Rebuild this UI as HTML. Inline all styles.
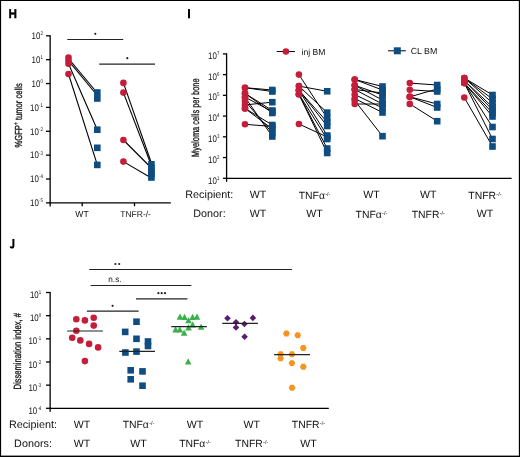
<!DOCTYPE html>
<html><head><meta charset="utf-8"><style>
html,body{margin:0;padding:0;background:#fff;width:520px;height:457px;overflow:hidden}
svg{display:block;font-family:"Liberation Sans", sans-serif;will-change:transform;text-rendering:geometricPrecision}
</style></head><body>
<svg width="520" height="457" viewBox="0 0 520 457">
<rect width="520" height="457" fill="#fff"/>
<text transform="translate(8.40,17.80) scale(0.92,1)" font-size="12.7" text-anchor="start" font-weight="bold" fill="#000" stroke="#000" stroke-width="0.35">H</text>
<line x1="50.15" y1="35.20" x2="50.15" y2="206.60" stroke="#000" stroke-width="1.3"/>
<line x1="46.00" y1="35.80" x2="50.15" y2="35.80" stroke="#000" stroke-width="1.3"/>
<text transform="translate(42.90,39.12) scale(0.83,1)" font-size="9.5" text-anchor="end" fill="#111">10<tspan font-size="5.3" dx="0.2" dy="-3.92">2</tspan></text>
<line x1="46.00" y1="59.67" x2="50.15" y2="59.67" stroke="#000" stroke-width="1.3"/>
<text transform="translate(42.90,63.00) scale(0.83,1)" font-size="9.5" text-anchor="end" fill="#111">10<tspan font-size="5.3" dx="0.2" dy="-3.92">1</tspan></text>
<line x1="46.00" y1="83.54" x2="50.15" y2="83.54" stroke="#000" stroke-width="1.3"/>
<text transform="translate(42.90,86.86) scale(0.83,1)" font-size="9.5" text-anchor="end" fill="#111">10<tspan font-size="5.3" dx="0.2" dy="-3.92">0</tspan></text>
<line x1="46.00" y1="107.41" x2="50.15" y2="107.41" stroke="#000" stroke-width="1.3"/>
<text transform="translate(42.90,110.73) scale(0.83,1)" font-size="9.5" text-anchor="end" fill="#111">10<tspan font-size="5.3" dx="0.2" dy="-3.92">-1</tspan></text>
<line x1="46.00" y1="131.28" x2="50.15" y2="131.28" stroke="#000" stroke-width="1.3"/>
<text transform="translate(42.90,134.60) scale(0.83,1)" font-size="9.5" text-anchor="end" fill="#111">10<tspan font-size="5.3" dx="0.2" dy="-3.92">-2</tspan></text>
<line x1="46.00" y1="155.15" x2="50.15" y2="155.15" stroke="#000" stroke-width="1.3"/>
<text transform="translate(42.90,158.47) scale(0.83,1)" font-size="9.5" text-anchor="end" fill="#111">10<tspan font-size="5.3" dx="0.2" dy="-3.92">-3</tspan></text>
<line x1="46.00" y1="179.02" x2="50.15" y2="179.02" stroke="#000" stroke-width="1.3"/>
<text transform="translate(42.90,182.34) scale(0.83,1)" font-size="9.5" text-anchor="end" fill="#111">10<tspan font-size="5.3" dx="0.2" dy="-3.92">-4</tspan></text>
<line x1="46.00" y1="202.89" x2="50.15" y2="202.89" stroke="#000" stroke-width="1.3"/>
<text transform="translate(42.90,206.21) scale(0.83,1)" font-size="9.5" text-anchor="end" fill="#111">10<tspan font-size="5.3" dx="0.2" dy="-3.92">-5</tspan></text>
<line x1="49.50" y1="202.80" x2="170.80" y2="202.80" stroke="#000" stroke-width="1.3"/>
<line x1="82.20" y1="202.80" x2="82.20" y2="206.20" stroke="#000" stroke-width="1.3"/>
<line x1="134.50" y1="202.80" x2="134.50" y2="206.20" stroke="#000" stroke-width="1.3"/>
<text x="82.00" y="217.30" font-size="8.6" text-anchor="middle" font-weight="normal" fill="#111">WT</text>
<text x="135.60" y="217.30" font-size="8.5" text-anchor="middle" font-weight="normal" fill="#111">TNFR-/-</text>
<text x="0" y="0" font-size="10.2" text-anchor="middle" fill="#111" stroke="#111" stroke-width="0.3" textLength="64.3" lengthAdjust="spacingAndGlyphs" transform="translate(21.90,115.40) rotate(-90)">%GFP<tspan font-size="6.5" dy="-3.5">+</tspan><tspan dy="3.5"> tumor cells</tspan></text>
<line x1="67.30" y1="39.50" x2="123.20" y2="39.50" stroke="#222" stroke-width="1.2"/>
<circle cx="95.30" cy="33.80" r="1.1" fill="#222"/>
<line x1="99.20" y1="64.20" x2="155.00" y2="64.20" stroke="#222" stroke-width="1.2"/>
<circle cx="127.30" cy="58.20" r="1.1" fill="#222"/>
<line x1="68.50" y1="58.50" x2="97.30" y2="93.00" stroke="#000" stroke-width="1.1"/>
<line x1="68.50" y1="60.60" x2="97.30" y2="95.50" stroke="#000" stroke-width="1.1"/>
<line x1="68.50" y1="63.70" x2="97.30" y2="129.70" stroke="#000" stroke-width="1.1"/>
<line x1="68.50" y1="74.00" x2="97.30" y2="164.90" stroke="#000" stroke-width="1.1"/>
<line x1="123.40" y1="82.90" x2="151.40" y2="163.00" stroke="#000" stroke-width="1.1"/>
<line x1="123.40" y1="92.60" x2="151.40" y2="165.50" stroke="#000" stroke-width="1.1"/>
<line x1="123.40" y1="140.00" x2="151.40" y2="168.00" stroke="#000" stroke-width="1.1"/>
<line x1="123.40" y1="161.60" x2="151.40" y2="178.00" stroke="#000" stroke-width="1.1"/>
<circle cx="68.50" cy="57.60" r="3.3" fill="#c41e3a"/>
<circle cx="68.50" cy="60.60" r="3.3" fill="#c41e3a"/>
<circle cx="68.50" cy="63.70" r="3.3" fill="#c41e3a"/>
<circle cx="68.50" cy="74.00" r="3.3" fill="#c41e3a"/>
<rect x="94.00" y="89.20" width="6.6" height="6.6" fill="#0f4c81"/>
<rect x="94.00" y="95.20" width="6.6" height="6.6" fill="#0f4c81"/>
<rect x="94.00" y="126.40" width="6.6" height="6.6" fill="#0f4c81"/>
<rect x="94.00" y="144.50" width="6.6" height="6.6" fill="#0f4c81"/>
<rect x="94.00" y="161.60" width="6.6" height="6.6" fill="#0f4c81"/>
<circle cx="123.40" cy="82.90" r="3.3" fill="#c41e3a"/>
<circle cx="123.40" cy="92.60" r="3.3" fill="#c41e3a"/>
<circle cx="123.40" cy="140.00" r="3.3" fill="#c41e3a"/>
<circle cx="123.40" cy="161.60" r="3.3" fill="#c41e3a"/>
<rect x="148.10" y="161.00" width="6.6" height="6.6" fill="#0f4c81"/>
<rect x="148.10" y="164.70" width="6.6" height="6.6" fill="#0f4c81"/>
<rect x="148.10" y="167.70" width="6.6" height="6.6" fill="#0f4c81"/>
<rect x="148.10" y="170.70" width="6.6" height="6.6" fill="#0f4c81"/>
<rect x="148.10" y="174.20" width="6.6" height="6.6" fill="#0f4c81"/>
<rect x="188.0" y="9.1" width="2.0" height="9.2" fill="#000"/>
<line x1="226.60" y1="53.30" x2="226.60" y2="181.80" stroke="#000" stroke-width="1.3"/>
<line x1="222.90" y1="53.90" x2="226.60" y2="53.90" stroke="#000" stroke-width="1.3"/>
<text transform="translate(219.40,58.62) scale(0.83,1)" font-size="9.5" text-anchor="end" fill="#111">10<tspan font-size="5.3" dx="0.2" dy="-3.92">7</tspan></text>
<line x1="222.90" y1="74.63" x2="226.60" y2="74.63" stroke="#000" stroke-width="1.3"/>
<text transform="translate(219.40,79.50) scale(0.83,1)" font-size="9.5" text-anchor="end" fill="#111">10<tspan font-size="5.3" dx="0.2" dy="-3.92">6</tspan></text>
<line x1="222.90" y1="95.36" x2="226.60" y2="95.36" stroke="#000" stroke-width="1.3"/>
<text transform="translate(219.40,100.36) scale(0.83,1)" font-size="9.5" text-anchor="end" fill="#111">10<tspan font-size="5.3" dx="0.2" dy="-3.92">5</tspan></text>
<line x1="222.90" y1="116.09" x2="226.60" y2="116.09" stroke="#000" stroke-width="1.3"/>
<text transform="translate(219.40,121.23) scale(0.83,1)" font-size="9.5" text-anchor="end" fill="#111">10<tspan font-size="5.3" dx="0.2" dy="-3.92">4</tspan></text>
<line x1="222.90" y1="136.82" x2="226.60" y2="136.82" stroke="#000" stroke-width="1.3"/>
<text transform="translate(219.40,142.10) scale(0.83,1)" font-size="9.5" text-anchor="end" fill="#111">10<tspan font-size="5.3" dx="0.2" dy="-3.92">3</tspan></text>
<line x1="222.90" y1="157.55" x2="226.60" y2="157.55" stroke="#000" stroke-width="1.3"/>
<text transform="translate(219.40,162.97) scale(0.83,1)" font-size="9.5" text-anchor="end" fill="#111">10<tspan font-size="5.3" dx="0.2" dy="-3.92">2</tspan></text>
<line x1="222.90" y1="178.28" x2="226.60" y2="178.28" stroke="#000" stroke-width="1.3"/>
<text transform="translate(219.40,183.84) scale(0.83,1)" font-size="9.5" text-anchor="end" fill="#111">10<tspan font-size="5.3" dx="0.2" dy="-3.92">1</tspan></text>
<line x1="226.00" y1="178.30" x2="511.60" y2="178.30" stroke="#000" stroke-width="1.3"/>
<text x="0" y="0" font-size="10.6" text-anchor="middle" fill="#111" stroke="#111" stroke-width="0.3" textLength="78.5" lengthAdjust="spacingAndGlyphs" transform="translate(198.70,117.70) rotate(-90)">Myeloma cells per bone</text>
<line x1="276.70" y1="51.50" x2="294.90" y2="51.50" stroke="#000" stroke-width="1.0"/>
<circle cx="285.90" cy="51.50" r="3.3" fill="#c41e3a"/>
<text x="301.50" y="54.60" font-size="8.6" text-anchor="start" font-weight="normal" fill="#111">inj BM</text>
<line x1="388.10" y1="50.80" x2="405.80" y2="50.80" stroke="#000" stroke-width="1.0"/>
<rect x="393.80" y="47.30" width="7.0" height="7.0" fill="#0f4c81"/>
<text x="410.70" y="54.00" font-size="8.8" text-anchor="start" font-weight="normal" fill="#111">CL BM</text>
<line x1="245.00" y1="87.70" x2="272.30" y2="90.00" stroke="#000" stroke-width="1.0"/>
<line x1="245.00" y1="87.70" x2="272.30" y2="91.50" stroke="#000" stroke-width="1.0"/>
<line x1="245.00" y1="93.40" x2="272.30" y2="110.50" stroke="#000" stroke-width="1.0"/>
<line x1="245.00" y1="93.40" x2="272.30" y2="113.00" stroke="#000" stroke-width="1.0"/>
<line x1="245.00" y1="97.20" x2="272.30" y2="111.50" stroke="#000" stroke-width="1.0"/>
<line x1="245.00" y1="104.90" x2="272.30" y2="102.20" stroke="#000" stroke-width="1.0"/>
<line x1="245.00" y1="101.00" x2="272.30" y2="133.00" stroke="#000" stroke-width="1.0"/>
<line x1="245.00" y1="108.40" x2="272.30" y2="125.00" stroke="#000" stroke-width="1.0"/>
<line x1="245.00" y1="108.40" x2="272.30" y2="129.00" stroke="#000" stroke-width="1.0"/>
<line x1="245.00" y1="124.30" x2="272.30" y2="126.50" stroke="#000" stroke-width="1.0"/>
<line x1="245.00" y1="97.20" x2="272.30" y2="136.50" stroke="#000" stroke-width="1.0"/>
<line x1="298.90" y1="74.60" x2="327.20" y2="118.00" stroke="#000" stroke-width="1.0"/>
<line x1="298.90" y1="86.10" x2="327.20" y2="91.30" stroke="#000" stroke-width="1.0"/>
<line x1="298.90" y1="86.10" x2="327.20" y2="112.60" stroke="#000" stroke-width="1.0"/>
<line x1="298.90" y1="90.20" x2="327.20" y2="122.00" stroke="#000" stroke-width="1.0"/>
<line x1="298.90" y1="90.20" x2="327.20" y2="135.50" stroke="#000" stroke-width="1.0"/>
<line x1="298.90" y1="94.30" x2="327.20" y2="139.00" stroke="#000" stroke-width="1.0"/>
<line x1="298.90" y1="94.30" x2="327.20" y2="148.50" stroke="#000" stroke-width="1.0"/>
<line x1="298.90" y1="94.30" x2="327.20" y2="153.00" stroke="#000" stroke-width="1.0"/>
<line x1="298.90" y1="90.20" x2="327.20" y2="126.00" stroke="#000" stroke-width="1.0"/>
<line x1="298.90" y1="124.00" x2="327.20" y2="137.00" stroke="#000" stroke-width="1.0"/>
<line x1="354.70" y1="79.50" x2="382.50" y2="86.50" stroke="#000" stroke-width="1.0"/>
<line x1="354.70" y1="79.50" x2="382.50" y2="90.00" stroke="#000" stroke-width="1.0"/>
<line x1="354.70" y1="85.30" x2="382.50" y2="95.00" stroke="#000" stroke-width="1.0"/>
<line x1="354.70" y1="85.30" x2="382.50" y2="100.00" stroke="#000" stroke-width="1.0"/>
<line x1="354.70" y1="89.50" x2="382.50" y2="93.00" stroke="#000" stroke-width="1.0"/>
<line x1="354.70" y1="89.50" x2="382.50" y2="104.00" stroke="#000" stroke-width="1.0"/>
<line x1="354.70" y1="94.50" x2="382.50" y2="108.00" stroke="#000" stroke-width="1.0"/>
<line x1="354.70" y1="98.50" x2="382.50" y2="112.50" stroke="#000" stroke-width="1.0"/>
<line x1="354.70" y1="104.00" x2="382.50" y2="104.00" stroke="#000" stroke-width="1.0"/>
<line x1="354.70" y1="100.50" x2="382.50" y2="136.20" stroke="#000" stroke-width="1.0"/>
<line x1="409.80" y1="83.10" x2="437.20" y2="85.00" stroke="#000" stroke-width="1.0"/>
<line x1="409.80" y1="89.80" x2="437.20" y2="91.50" stroke="#000" stroke-width="1.0"/>
<line x1="409.80" y1="96.80" x2="437.20" y2="89.00" stroke="#000" stroke-width="1.0"/>
<line x1="409.80" y1="96.80" x2="437.20" y2="104.00" stroke="#000" stroke-width="1.0"/>
<line x1="409.80" y1="96.80" x2="437.20" y2="107.50" stroke="#000" stroke-width="1.0"/>
<line x1="409.80" y1="103.90" x2="437.20" y2="121.20" stroke="#000" stroke-width="1.0"/>
<line x1="464.30" y1="78.00" x2="492.50" y2="95.00" stroke="#000" stroke-width="1.0"/>
<line x1="464.30" y1="78.00" x2="492.50" y2="99.00" stroke="#000" stroke-width="1.0"/>
<line x1="464.30" y1="78.00" x2="492.50" y2="103.00" stroke="#000" stroke-width="1.0"/>
<line x1="464.30" y1="80.50" x2="492.50" y2="107.00" stroke="#000" stroke-width="1.0"/>
<line x1="464.30" y1="80.50" x2="492.50" y2="110.00" stroke="#000" stroke-width="1.0"/>
<line x1="464.30" y1="83.00" x2="492.50" y2="113.00" stroke="#000" stroke-width="1.0"/>
<line x1="464.30" y1="83.00" x2="492.50" y2="116.50" stroke="#000" stroke-width="1.0"/>
<line x1="464.30" y1="83.00" x2="492.50" y2="127.00" stroke="#000" stroke-width="1.0"/>
<line x1="464.30" y1="83.00" x2="492.50" y2="139.00" stroke="#000" stroke-width="1.0"/>
<line x1="464.30" y1="97.50" x2="492.50" y2="146.50" stroke="#000" stroke-width="1.0"/>
<circle cx="245.00" cy="87.70" r="3.3" fill="#c41e3a"/>
<rect x="269.00" y="86.70" width="6.6" height="6.6" fill="#0f4c81"/>
<circle cx="245.00" cy="87.70" r="3.3" fill="#c41e3a"/>
<rect x="269.00" y="88.20" width="6.6" height="6.6" fill="#0f4c81"/>
<circle cx="245.00" cy="93.40" r="3.3" fill="#c41e3a"/>
<rect x="269.00" y="107.20" width="6.6" height="6.6" fill="#0f4c81"/>
<circle cx="245.00" cy="93.40" r="3.3" fill="#c41e3a"/>
<rect x="269.00" y="109.70" width="6.6" height="6.6" fill="#0f4c81"/>
<circle cx="245.00" cy="97.20" r="3.3" fill="#c41e3a"/>
<rect x="269.00" y="108.20" width="6.6" height="6.6" fill="#0f4c81"/>
<circle cx="245.00" cy="104.90" r="3.3" fill="#c41e3a"/>
<rect x="269.00" y="98.90" width="6.6" height="6.6" fill="#0f4c81"/>
<circle cx="245.00" cy="101.00" r="3.3" fill="#c41e3a"/>
<rect x="269.00" y="129.70" width="6.6" height="6.6" fill="#0f4c81"/>
<circle cx="245.00" cy="108.40" r="3.3" fill="#c41e3a"/>
<rect x="269.00" y="121.70" width="6.6" height="6.6" fill="#0f4c81"/>
<circle cx="245.00" cy="108.40" r="3.3" fill="#c41e3a"/>
<rect x="269.00" y="125.70" width="6.6" height="6.6" fill="#0f4c81"/>
<circle cx="245.00" cy="124.30" r="3.3" fill="#c41e3a"/>
<rect x="269.00" y="123.20" width="6.6" height="6.6" fill="#0f4c81"/>
<circle cx="245.00" cy="97.20" r="3.3" fill="#c41e3a"/>
<rect x="269.00" y="133.20" width="6.6" height="6.6" fill="#0f4c81"/>
<circle cx="298.90" cy="74.60" r="3.3" fill="#c41e3a"/>
<rect x="323.90" y="114.70" width="6.6" height="6.6" fill="#0f4c81"/>
<circle cx="298.90" cy="86.10" r="3.3" fill="#c41e3a"/>
<rect x="323.90" y="88.00" width="6.6" height="6.6" fill="#0f4c81"/>
<circle cx="298.90" cy="86.10" r="3.3" fill="#c41e3a"/>
<rect x="323.90" y="109.30" width="6.6" height="6.6" fill="#0f4c81"/>
<circle cx="298.90" cy="90.20" r="3.3" fill="#c41e3a"/>
<rect x="323.90" y="118.70" width="6.6" height="6.6" fill="#0f4c81"/>
<circle cx="298.90" cy="90.20" r="3.3" fill="#c41e3a"/>
<rect x="323.90" y="132.20" width="6.6" height="6.6" fill="#0f4c81"/>
<circle cx="298.90" cy="94.30" r="3.3" fill="#c41e3a"/>
<rect x="323.90" y="135.70" width="6.6" height="6.6" fill="#0f4c81"/>
<circle cx="298.90" cy="94.30" r="3.3" fill="#c41e3a"/>
<rect x="323.90" y="145.20" width="6.6" height="6.6" fill="#0f4c81"/>
<circle cx="298.90" cy="94.30" r="3.3" fill="#c41e3a"/>
<rect x="323.90" y="149.70" width="6.6" height="6.6" fill="#0f4c81"/>
<circle cx="298.90" cy="90.20" r="3.3" fill="#c41e3a"/>
<rect x="323.90" y="122.70" width="6.6" height="6.6" fill="#0f4c81"/>
<circle cx="298.90" cy="124.00" r="3.3" fill="#c41e3a"/>
<rect x="323.90" y="133.70" width="6.6" height="6.6" fill="#0f4c81"/>
<circle cx="354.70" cy="79.50" r="3.3" fill="#c41e3a"/>
<rect x="379.20" y="83.20" width="6.6" height="6.6" fill="#0f4c81"/>
<circle cx="354.70" cy="79.50" r="3.3" fill="#c41e3a"/>
<rect x="379.20" y="86.70" width="6.6" height="6.6" fill="#0f4c81"/>
<circle cx="354.70" cy="85.30" r="3.3" fill="#c41e3a"/>
<rect x="379.20" y="91.70" width="6.6" height="6.6" fill="#0f4c81"/>
<circle cx="354.70" cy="85.30" r="3.3" fill="#c41e3a"/>
<rect x="379.20" y="96.70" width="6.6" height="6.6" fill="#0f4c81"/>
<circle cx="354.70" cy="89.50" r="3.3" fill="#c41e3a"/>
<rect x="379.20" y="89.70" width="6.6" height="6.6" fill="#0f4c81"/>
<circle cx="354.70" cy="89.50" r="3.3" fill="#c41e3a"/>
<rect x="379.20" y="100.70" width="6.6" height="6.6" fill="#0f4c81"/>
<circle cx="354.70" cy="94.50" r="3.3" fill="#c41e3a"/>
<rect x="379.20" y="104.70" width="6.6" height="6.6" fill="#0f4c81"/>
<circle cx="354.70" cy="98.50" r="3.3" fill="#c41e3a"/>
<rect x="379.20" y="109.20" width="6.6" height="6.6" fill="#0f4c81"/>
<circle cx="354.70" cy="104.00" r="3.3" fill="#c41e3a"/>
<rect x="379.20" y="100.70" width="6.6" height="6.6" fill="#0f4c81"/>
<circle cx="354.70" cy="100.50" r="3.3" fill="#c41e3a"/>
<rect x="379.20" y="132.90" width="6.6" height="6.6" fill="#0f4c81"/>
<circle cx="409.80" cy="83.10" r="3.3" fill="#c41e3a"/>
<rect x="433.90" y="81.70" width="6.6" height="6.6" fill="#0f4c81"/>
<circle cx="409.80" cy="89.80" r="3.3" fill="#c41e3a"/>
<rect x="433.90" y="88.20" width="6.6" height="6.6" fill="#0f4c81"/>
<circle cx="409.80" cy="96.80" r="3.3" fill="#c41e3a"/>
<rect x="433.90" y="85.70" width="6.6" height="6.6" fill="#0f4c81"/>
<circle cx="409.80" cy="96.80" r="3.3" fill="#c41e3a"/>
<rect x="433.90" y="100.70" width="6.6" height="6.6" fill="#0f4c81"/>
<circle cx="409.80" cy="96.80" r="3.3" fill="#c41e3a"/>
<rect x="433.90" y="104.20" width="6.6" height="6.6" fill="#0f4c81"/>
<circle cx="409.80" cy="103.90" r="3.3" fill="#c41e3a"/>
<rect x="433.90" y="117.90" width="6.6" height="6.6" fill="#0f4c81"/>
<circle cx="464.30" cy="78.00" r="3.3" fill="#c41e3a"/>
<rect x="489.20" y="91.70" width="6.6" height="6.6" fill="#0f4c81"/>
<circle cx="464.30" cy="78.00" r="3.3" fill="#c41e3a"/>
<rect x="489.20" y="95.70" width="6.6" height="6.6" fill="#0f4c81"/>
<circle cx="464.30" cy="78.00" r="3.3" fill="#c41e3a"/>
<rect x="489.20" y="99.70" width="6.6" height="6.6" fill="#0f4c81"/>
<circle cx="464.30" cy="80.50" r="3.3" fill="#c41e3a"/>
<rect x="489.20" y="103.70" width="6.6" height="6.6" fill="#0f4c81"/>
<circle cx="464.30" cy="80.50" r="3.3" fill="#c41e3a"/>
<rect x="489.20" y="106.70" width="6.6" height="6.6" fill="#0f4c81"/>
<circle cx="464.30" cy="83.00" r="3.3" fill="#c41e3a"/>
<rect x="489.20" y="109.70" width="6.6" height="6.6" fill="#0f4c81"/>
<circle cx="464.30" cy="83.00" r="3.3" fill="#c41e3a"/>
<rect x="489.20" y="113.20" width="6.6" height="6.6" fill="#0f4c81"/>
<circle cx="464.30" cy="83.00" r="3.3" fill="#c41e3a"/>
<rect x="489.20" y="123.70" width="6.6" height="6.6" fill="#0f4c81"/>
<circle cx="464.30" cy="83.00" r="3.3" fill="#c41e3a"/>
<rect x="489.20" y="135.70" width="6.6" height="6.6" fill="#0f4c81"/>
<circle cx="464.30" cy="97.50" r="3.3" fill="#c41e3a"/>
<rect x="489.20" y="143.20" width="6.6" height="6.6" fill="#0f4c81"/>
<text x="209.30" y="197.70" font-size="10.8" text-anchor="middle" font-weight="normal" fill="#111">Recipient:</text>
<text x="209.50" y="216.90" font-size="10.8" text-anchor="middle" font-weight="normal" fill="#111">Donor:</text>
<text x="258.00" y="197.60" font-size="10.6" text-anchor="middle" fill="#111">WT</text>
<text x="258.00" y="216.90" font-size="10.6" text-anchor="middle" fill="#111">WT</text>
<text x="314.60" y="198.80" font-size="10.4" text-anchor="middle" fill="#111">TNFα<tspan font-size="5.5" dx="0.3" dy="-3.0">-/-</tspan></text>
<text x="314.60" y="216.90" font-size="10.6" text-anchor="middle" fill="#111">WT</text>
<text x="371.40" y="197.60" font-size="10.6" text-anchor="middle" fill="#111">WT</text>
<text x="371.40" y="218.10" font-size="10.4" text-anchor="middle" fill="#111">TNFα<tspan font-size="5.5" dx="0.3" dy="-3.0">-/-</tspan></text>
<text x="428.30" y="197.60" font-size="10.6" text-anchor="middle" fill="#111">WT</text>
<text x="428.30" y="218.10" font-size="10.4" text-anchor="middle" fill="#111">TNFR<tspan font-size="5.5" dx="0.3" dy="-3.0">-/-</tspan></text>
<text x="484.90" y="198.80" font-size="10.4" text-anchor="middle" fill="#111">TNFR<tspan font-size="5.5" dx="0.3" dy="-3.0">-/-</tspan></text>
<text x="484.90" y="216.90" font-size="10.6" text-anchor="middle" fill="#111">WT</text>
<path d="M13.4,239.1 L13.4,245.4 Q13.4,247.6 11.7,247.6 Q10.7,247.6 10.5,246.4" fill="none" stroke="#000" stroke-width="2.0"/>
<line x1="50.15" y1="291.90" x2="50.15" y2="411.80" stroke="#000" stroke-width="1.3"/>
<line x1="46.00" y1="292.50" x2="50.15" y2="292.50" stroke="#000" stroke-width="1.3"/>
<text transform="translate(41.30,298.02) scale(0.83,1)" font-size="9.5" text-anchor="end" fill="#111">10<tspan font-size="5.3" dx="0.2" dy="-3.92">1</tspan></text>
<line x1="46.00" y1="315.66" x2="50.15" y2="315.66" stroke="#000" stroke-width="1.3"/>
<text transform="translate(41.30,321.19) scale(0.83,1)" font-size="9.5" text-anchor="end" fill="#111">10<tspan font-size="5.3" dx="0.2" dy="-3.92">0</tspan></text>
<line x1="46.00" y1="338.82" x2="50.15" y2="338.82" stroke="#000" stroke-width="1.3"/>
<text transform="translate(41.30,344.34) scale(0.83,1)" font-size="9.5" text-anchor="end" fill="#111">10<tspan font-size="5.3" dx="0.2" dy="-3.92">-1</tspan></text>
<line x1="46.00" y1="361.98" x2="50.15" y2="361.98" stroke="#000" stroke-width="1.3"/>
<text transform="translate(41.30,367.50) scale(0.83,1)" font-size="9.5" text-anchor="end" fill="#111">10<tspan font-size="5.3" dx="0.2" dy="-3.92">-2</tspan></text>
<line x1="46.00" y1="385.14" x2="50.15" y2="385.14" stroke="#000" stroke-width="1.3"/>
<text transform="translate(41.30,390.66) scale(0.83,1)" font-size="9.5" text-anchor="end" fill="#111">10<tspan font-size="5.3" dx="0.2" dy="-3.92">-3</tspan></text>
<line x1="46.00" y1="408.30" x2="50.15" y2="408.30" stroke="#000" stroke-width="1.3"/>
<text transform="translate(41.30,413.82) scale(0.83,1)" font-size="9.5" text-anchor="end" fill="#111">10<tspan font-size="5.3" dx="0.2" dy="-3.92">-4</tspan></text>
<line x1="49.50" y1="408.30" x2="328.80" y2="408.30" stroke="#000" stroke-width="1.3"/>
<text x="0" y="0" font-size="10.5" text-anchor="middle" fill="#111" stroke="#111" stroke-width="0.3" textLength="76.6" lengthAdjust="spacingAndGlyphs" transform="translate(20.60,351.30) rotate(-90)">Dissemination index, #</text>
<line x1="89.30" y1="269.50" x2="291.90" y2="269.50" stroke="#222" stroke-width="1.2"/>
<circle cx="115.40" cy="264.00" r="1.1" fill="#222"/>
<circle cx="119.20" cy="264.00" r="1.1" fill="#222"/>
<line x1="90.60" y1="285.50" x2="191.40" y2="285.50" stroke="#222" stroke-width="1.2"/>
<text x="114.90" y="281.60" font-size="8.2" text-anchor="middle" font-weight="normal" fill="#111">n.s.</text>
<line x1="136.00" y1="298.90" x2="187.40" y2="298.90" stroke="#222" stroke-width="1.2"/>
<circle cx="158.40" cy="293.20" r="1.1" fill="#222"/>
<circle cx="161.70" cy="293.20" r="1.1" fill="#222"/>
<circle cx="165.00" cy="293.20" r="1.1" fill="#222"/>
<line x1="86.90" y1="311.20" x2="138.60" y2="311.20" stroke="#222" stroke-width="1.2"/>
<circle cx="112.60" cy="305.80" r="1.1" fill="#222"/>
<circle cx="76.30" cy="319.20" r="3.3" fill="#c41e3a"/>
<circle cx="84.90" cy="320.40" r="3.3" fill="#c41e3a"/>
<circle cx="93.70" cy="317.70" r="3.3" fill="#c41e3a"/>
<circle cx="93.70" cy="325.60" r="3.3" fill="#c41e3a"/>
<circle cx="76.30" cy="330.70" r="3.3" fill="#c41e3a"/>
<circle cx="72.20" cy="337.80" r="3.3" fill="#c41e3a"/>
<circle cx="80.30" cy="340.40" r="3.3" fill="#c41e3a"/>
<circle cx="89.10" cy="343.90" r="3.3" fill="#c41e3a"/>
<circle cx="98.10" cy="347.40" r="3.3" fill="#c41e3a"/>
<circle cx="84.90" cy="361.10" r="3.3" fill="#c41e3a"/>
<line x1="67.20" y1="331.00" x2="102.90" y2="331.00" stroke="#222" stroke-width="1.1"/>
<rect x="133.20" y="318.40" width="6.6" height="6.6" fill="#0f4c81"/>
<rect x="121.90" y="328.60" width="6.6" height="6.6" fill="#0f4c81"/>
<rect x="133.20" y="335.50" width="6.6" height="6.6" fill="#0f4c81"/>
<rect x="144.70" y="338.20" width="6.6" height="6.6" fill="#0f4c81"/>
<rect x="144.70" y="342.70" width="6.6" height="6.6" fill="#0f4c81"/>
<rect x="122.10" y="349.20" width="6.6" height="6.6" fill="#0f4c81"/>
<rect x="133.20" y="348.30" width="6.6" height="6.6" fill="#0f4c81"/>
<rect x="127.40" y="367.00" width="6.6" height="6.6" fill="#0f4c81"/>
<rect x="139.20" y="368.10" width="6.6" height="6.6" fill="#0f4c81"/>
<rect x="127.40" y="376.00" width="6.6" height="6.6" fill="#0f4c81"/>
<rect x="139.20" y="382.40" width="6.6" height="6.6" fill="#0f4c81"/>
<line x1="119.30" y1="351.40" x2="155.00" y2="351.40" stroke="#222" stroke-width="1.1"/>
<polygon points="180.00,313.55 183.30,319.82 176.70,319.82" fill="#3bb04a"/>
<polygon points="184.50,313.85 187.80,320.12 181.20,320.12" fill="#3bb04a"/>
<polygon points="188.50,317.05 191.80,323.32 185.20,323.32" fill="#3bb04a"/>
<polygon points="192.60,313.85 195.90,320.12 189.30,320.12" fill="#3bb04a"/>
<polygon points="197.00,313.55 200.30,319.82 193.70,319.82" fill="#3bb04a"/>
<polygon points="192.60,321.15 195.90,327.42 189.30,327.42" fill="#3bb04a"/>
<polygon points="188.50,324.25 191.80,330.52 185.20,330.52" fill="#3bb04a"/>
<polygon points="201.10,323.55 204.40,329.82 197.80,329.82" fill="#3bb04a"/>
<polygon points="175.60,326.25 178.90,332.52 172.30,332.52" fill="#3bb04a"/>
<polygon points="179.80,326.25 183.10,332.52 176.50,332.52" fill="#3bb04a"/>
<polygon points="184.10,329.55 187.40,335.82 180.80,335.82" fill="#3bb04a"/>
<polygon points="188.20,358.15 191.50,364.42 184.90,364.42" fill="#3bb04a"/>
<line x1="171.30" y1="326.60" x2="206.90" y2="326.60" stroke="#222" stroke-width="1.1"/>
<polygon points="227.50,314.90 230.80,318.20 227.50,321.50 224.20,318.20" fill="#5b1c6f"/>
<polygon points="236.00,318.90 239.30,322.20 236.00,325.50 232.70,322.20" fill="#5b1c6f"/>
<polygon points="236.00,324.20 239.30,327.50 236.00,330.80 232.70,327.50" fill="#5b1c6f"/>
<polygon points="244.40,320.70 247.70,324.00 244.40,327.30 241.10,324.00" fill="#5b1c6f"/>
<polygon points="252.90,314.60 256.20,317.90 252.90,321.20 249.60,317.90" fill="#5b1c6f"/>
<polygon points="244.60,333.40 247.90,336.70 244.60,340.00 241.30,336.70" fill="#5b1c6f"/>
<line x1="222.30" y1="323.40" x2="257.90" y2="323.40" stroke="#222" stroke-width="1.1"/>
<polygon points="289.80,333.50 288.10,336.44 284.70,336.44 283.00,333.50 284.70,330.56 288.10,330.56" fill="#f7941d"/>
<polygon points="301.10,335.20 299.40,338.14 296.00,338.14 294.30,335.20 296.00,332.26 299.40,332.26" fill="#f7941d"/>
<polygon points="306.70,348.00 305.00,350.94 301.60,350.94 299.90,348.00 301.60,345.06 305.00,345.06" fill="#f7941d"/>
<polygon points="284.00,354.30 282.30,357.24 278.90,357.24 277.20,354.30 278.90,351.36 282.30,351.36" fill="#f7941d"/>
<polygon points="295.30,354.30 293.60,357.24 290.20,357.24 288.50,354.30 290.20,351.36 293.60,351.36" fill="#f7941d"/>
<polygon points="284.00,358.40 282.30,361.34 278.90,361.34 277.20,358.40 278.90,355.46 282.30,355.46" fill="#f7941d"/>
<polygon points="295.30,363.10 293.60,366.04 290.20,366.04 288.50,363.10 290.20,360.16 293.60,360.16" fill="#f7941d"/>
<polygon points="306.70,366.80 305.00,369.74 301.60,369.74 299.90,366.80 301.60,363.86 305.00,363.86" fill="#f7941d"/>
<polygon points="295.50,387.80 293.80,390.74 290.40,390.74 288.70,387.80 290.40,384.86 293.80,384.86" fill="#f7941d"/>
<line x1="274.10" y1="354.60" x2="310.00" y2="354.60" stroke="#222" stroke-width="1.1"/>
<text x="32.90" y="427.80" font-size="10.8" text-anchor="middle" font-weight="normal" fill="#111">Recipient:</text>
<text x="33.00" y="447.10" font-size="10.8" text-anchor="middle" font-weight="normal" fill="#111">Donors:</text>
<text x="82.00" y="427.50" font-size="10.6" text-anchor="middle" fill="#111">WT</text>
<text x="82.00" y="446.90" font-size="10.6" text-anchor="middle" fill="#111">WT</text>
<text x="138.50" y="427.80" font-size="10.4" text-anchor="middle" fill="#111">TNFα<tspan font-size="5.5" dx="0.3" dy="-3.0">-/-</tspan></text>
<text x="138.50" y="446.90" font-size="10.6" text-anchor="middle" fill="#111">WT</text>
<text x="195.00" y="427.50" font-size="10.6" text-anchor="middle" fill="#111">WT</text>
<text x="195.00" y="447.20" font-size="10.4" text-anchor="middle" fill="#111">TNFα<tspan font-size="5.5" dx="0.3" dy="-3.0">-/-</tspan></text>
<text x="251.70" y="427.50" font-size="10.6" text-anchor="middle" fill="#111">WT</text>
<text x="251.70" y="447.20" font-size="10.4" text-anchor="middle" fill="#111">TNFR<tspan font-size="5.5" dx="0.3" dy="-3.0">-/-</tspan></text>
<text x="308.40" y="427.80" font-size="10.4" text-anchor="middle" fill="#111">TNFR<tspan font-size="5.5" dx="0.3" dy="-3.0">-/-</tspan></text>
<text x="308.40" y="446.90" font-size="10.6" text-anchor="middle" fill="#111">WT</text>
<rect x="0" y="0" width="520" height="1" fill="#000"/>
<rect x="0" y="0" width="1.1" height="457" fill="#000"/>
<rect x="518.85" y="0" width="1.15" height="457" fill="#000"/>
<rect x="0" y="455.6" width="520" height="1.4" fill="#000"/>
</svg>
</body></html>
